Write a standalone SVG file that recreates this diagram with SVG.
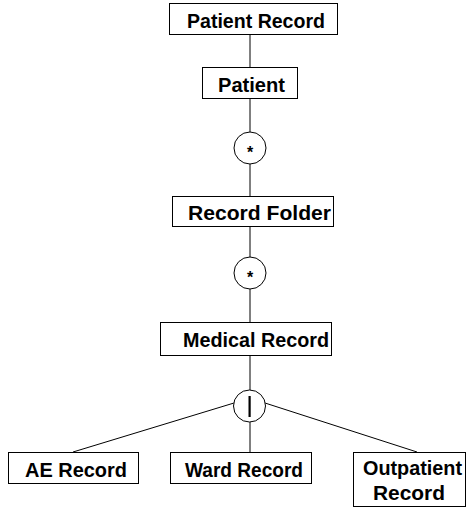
<svg xmlns="http://www.w3.org/2000/svg" width="467" height="508" viewBox="0 0 467 508">
  <style>
    .box { fill: #ffffff; stroke: #000000; stroke-width: 1; }
    .sel { fill: #ffffff; stroke: #000000; stroke-width: 1; }
    .lbl { font-family: "Liberation Sans", Arial, sans-serif; font-size: 20.5px; font-weight: bold; fill: #000000; }
    .mark { font-family: "Liberation Sans", Arial, sans-serif; font-size: 16px; font-weight: bold; fill: #000000; text-anchor: middle; }
    .conn line { stroke: #000000; stroke-width: 1; }
  </style>
  <rect width="467" height="508" fill="#ffffff"/>

  <!-- connectors -->
  <g id="connectors" class="conn">
    <line x1="250" y1="34" x2="250" y2="67"/>
    <line x1="250" y1="98" x2="250" y2="132"/>
    <line x1="250" y1="164" x2="250" y2="197"/>
    <line x1="250" y1="226" x2="250" y2="257"/>
    <line x1="250" y1="289" x2="250" y2="322"/>
    <line x1="250" y1="355" x2="250" y2="390"/>
    <line x1="250" y1="422" x2="250" y2="452"/>
    <line x1="234" y1="403" x2="73" y2="452"/>
    <line x1="265" y1="403" x2="417" y2="452"/>
  </g>

  <g id="patient-record">
    <rect class="box" x="169.5" y="3.5" width="168" height="31"/>
    <text class="lbl" x="187" y="28" textLength="138" lengthAdjust="spacingAndGlyphs">Patient Record</text>
  </g>

  <g id="patient">
    <rect class="box" x="202.5" y="67.5" width="95" height="31"/>
    <text class="lbl" x="218" y="92" textLength="67" lengthAdjust="spacingAndGlyphs">Patient</text>
  </g>

  <g id="iter-1">
    <circle class="sel" cx="250" cy="148" r="16"/>
    <text class="mark" x="250" y="158">*</text>
  </g>

  <g id="record-folder">
    <rect class="box" x="172.5" y="196.5" width="161" height="30"/>
    <text class="lbl" x="188" y="220" textLength="143" lengthAdjust="spacingAndGlyphs">Record Folder</text>
  </g>

  <g id="iter-2">
    <circle class="sel" cx="250" cy="273" r="16"/>
    <text class="mark" x="250" y="283">*</text>
  </g>

  <g id="medical-record">
    <rect class="box" x="160.5" y="322.5" width="171" height="33"/>
    <text class="lbl" x="183" y="347" textLength="146" lengthAdjust="spacingAndGlyphs">Medical Record</text>
  </g>

  <g id="selection">
    <circle class="sel" cx="249.5" cy="406" r="16"/>
    <rect x="248.5" y="396" width="2.2" height="21" fill="#000000"/>
  </g>

  <g id="ae-record">
    <rect class="box" x="8.5" y="452.5" width="130" height="31"/>
    <text class="lbl" x="25" y="477" textLength="102" lengthAdjust="spacingAndGlyphs">AE Record</text>
  </g>

  <g id="ward-record">
    <rect class="box" x="170.5" y="452.5" width="141" height="31"/>
    <text class="lbl" x="185" y="477" textLength="118" lengthAdjust="spacingAndGlyphs">Ward Record</text>
  </g>

  <g id="outpatient-record">
    <rect class="box" x="353.5" y="452.5" width="112" height="54"/>
    <text class="lbl" x="363" y="475" textLength="99" lengthAdjust="spacingAndGlyphs">Outpatient</text>
    <text class="lbl" x="373" y="500" textLength="72" lengthAdjust="spacingAndGlyphs">Record</text>
  </g>
</svg>
